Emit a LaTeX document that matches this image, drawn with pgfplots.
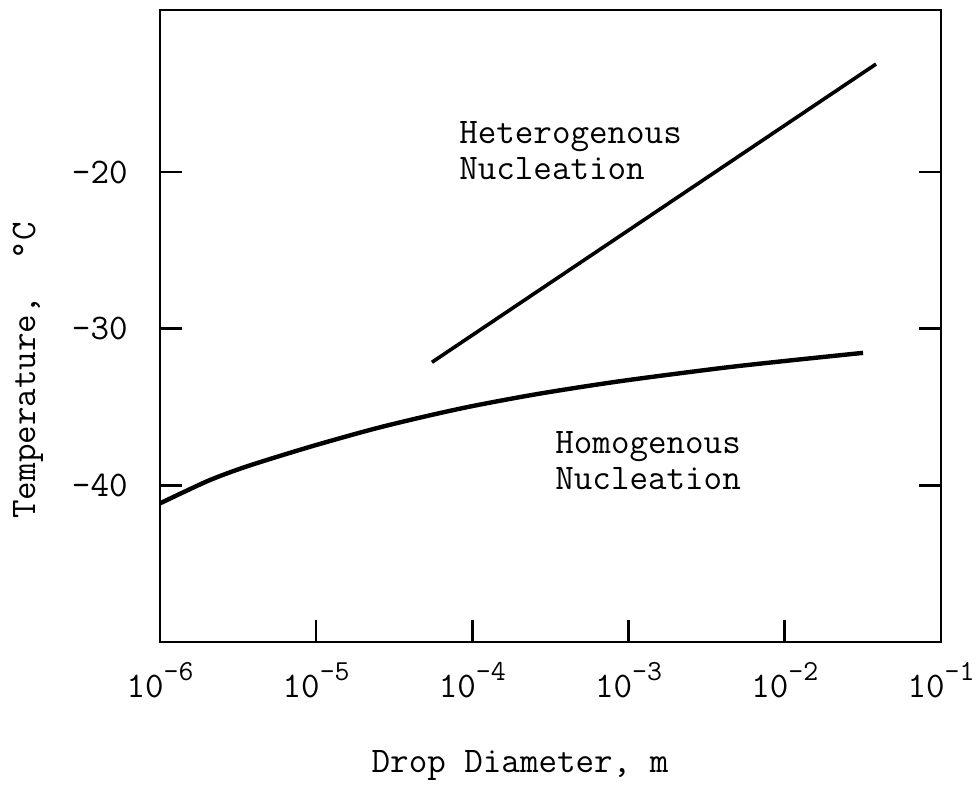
\documentclass[border=0pt]{standalone}
\usepackage{pgfplots}
\pgfplotsset{compat=1.18}
\renewcommand{\familydefault}{\ttdefault}
\newcommand{\sexp}[1]{10\raisebox{8.5pt}{\fontsize{14.5}{14.5}\selectfont #1}}
\begin{document}
\fontsize{18}{21}\selectfont
\begin{tikzpicture}
\begin{axis}[
  scale only axis, width=390.5pt, height=316pt,
  xmode=log, xmin=1e-6, xmax=1e-1, ymin=-50, ymax=-9.65,
  axis line style={line width=1.3pt},
  tick style={line width=1.3pt, black},
  major tick length=11pt,
  tick align=inside,
  xminorticks=false,
  xtick={1e-6,1e-5,1e-4,1e-3,1e-2,1e-1},
  xticklabels={\sexp{-6},\sexp{-5},\sexp{-4},\sexp{-3},\sexp{-2},\sexp{-1}},
  xtick pos=bottom,
  ytick={-40,-30,-20}, yticklabels={-40,-30,-20},
  ytick pos=both,
  ticklabel style={font=\fontsize{18}{21}\selectfont\ttfamily},
  xticklabel style={anchor=north, yshift=-4pt},
  yticklabel style={anchor=east, xshift=-10pt},
  xlabel={Drop Diameter, m},
  ylabel={Temperature,\ \ \textdegree C},
  label style={font=\fontsize{18}{21}\selectfont\ttfamily},
  xlabel style={at={(rel axis cs:0.461,-0.195)}, anchor=center},
  ylabel style={at={(rel axis cs:-0.169,0.43)}, anchor=center},
]
\addplot[black, line width=2.2pt, smooth] coordinates {
 (1.00e-6,-41.15) (2.00e-6,-39.74) (3.25e-6,-38.94) (5.28e-6,-38.26)
 (1.01e-5,-37.41) (2.31e-5,-36.41) (4.83e-5,-35.63) (1.01e-4,-34.93)
 (2.71e-4,-34.14) (8.81e-4,-33.35) (3.85e-3,-32.52) (1.00e-2,-32.06)
 (3.17e-2,-31.54)
};
\addplot[black, line width=1.8pt] coordinates {
 (5.51e-5,-32.14) (3.84e-2,-13.10)
};
\node[anchor=base west, inner sep=0pt, font=\fontsize{18}{21}\selectfont\ttfamily] at (axis cs:8.2e-5,-18.15) {Heterogenous};
\node[anchor=base west, inner sep=0pt, font=\fontsize{18}{21}\selectfont\ttfamily] at (axis cs:8.2e-5,-20.45) {Nucleation};
\node[anchor=base west, inner sep=0pt, font=\fontsize{18}{21}\selectfont\ttfamily] at (axis cs:3.38e-4,-37.95) {Homogenous};
\node[anchor=base west, inner sep=0pt, font=\fontsize{18}{21}\selectfont\ttfamily] at (axis cs:3.38e-4,-40.25) {Nucleation};
\coordinate (bl) at (rel axis cs:-0.20487,-0.23892);
\coordinate (tr) at (rel axis cs:1.04609,1.01582);
\end{axis}
\pgfresetboundingbox
\path (bl) rectangle (tr);
\end{tikzpicture}
\end{document}
